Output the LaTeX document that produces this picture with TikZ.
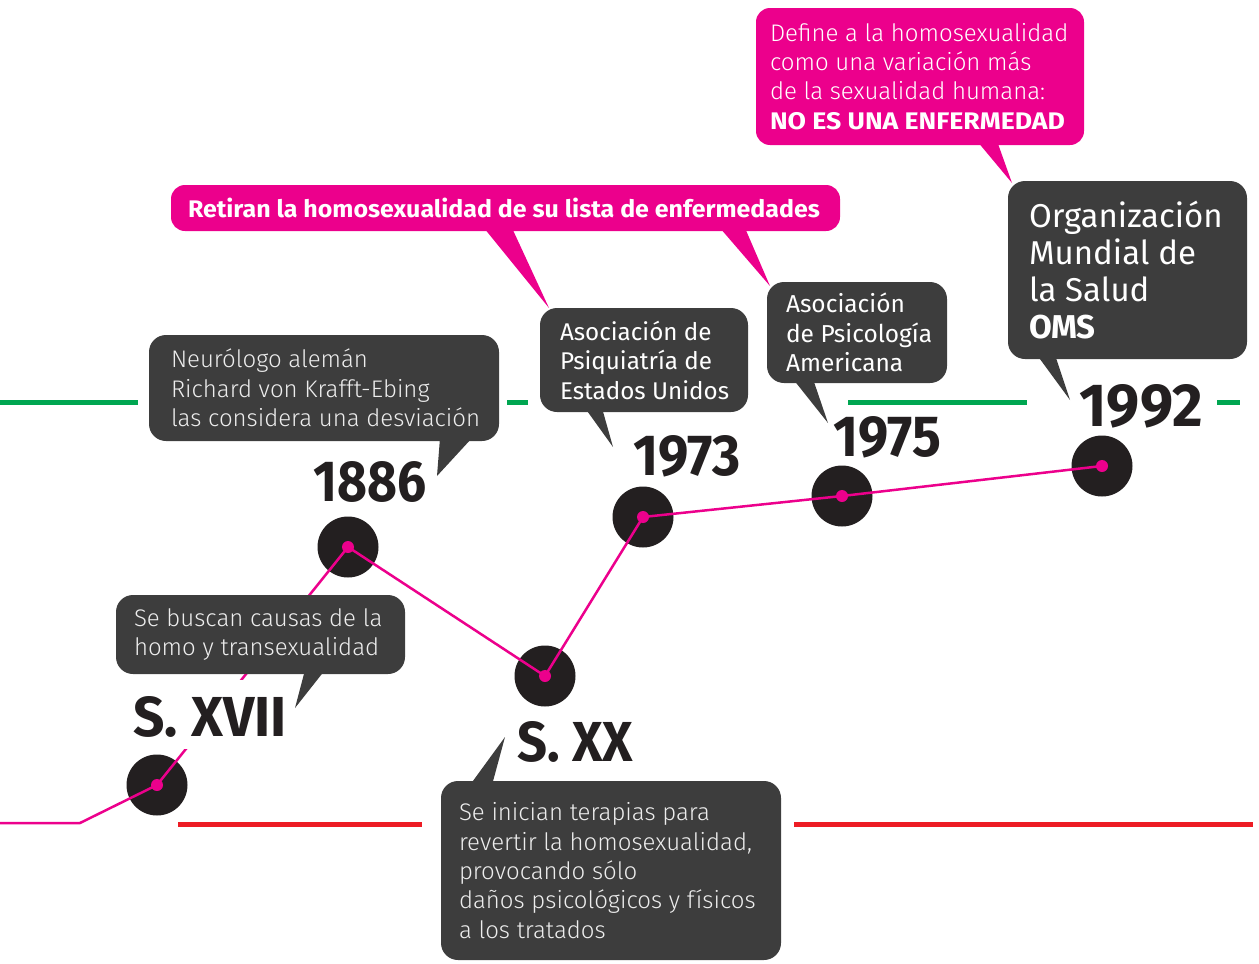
\documentclass[tikz,border=0pt]{standalone}
\usepackage{fontspec}
\IfFontExistsTF{Fira Sans Light}{%
  \setmainfont{Fira Sans Light}[BoldFont={Fira Sans Bold}]
}{%
  \setmainfont{Fira Sans}
}
\newfontfamily\medfont{Fira Sans}[BoldFont={Fira Sans Bold}]
\newfontfamily\yrfont{Fira Sans Bold}
\definecolor{bubgray}{HTML}{3D3D3D}
\definecolor{dotc}{HTML}{231F20}
\definecolor{pinkc}{HTML}{EC008C}
\definecolor{greenc}{HTML}{00A651}
\definecolor{redc}{HTML}{ED1C24}
\definecolor{txtw}{HTML}{EDEDED}
\begin{document}
\begin{tikzpicture}[x=1pt,y=-1pt,
  bubbox/.style={fill=bubgray, rounded corners=17pt, inner sep=0pt},
  pbox/.style={fill=pinkc, rounded corners=14pt, inner sep=0pt},
  btxt/.style={text=txtw, align=left, inner sep=0pt, anchor=west},
  ptxt/.style={text=white, align=left, inner sep=0pt, anchor=west},
  dot/.style={circle, fill=dotc, minimum size=61pt, inner sep=0pt},
  pdot/.style={circle, fill=pinkc, minimum size=12pt, inner sep=0pt},
  yr/.style={fill=white, inner sep=2pt, text=dotc, font=\yrfont},
  gline/.style={draw=greenc, line width=5pt},
  rline/.style={draw=redc, line width=5pt},
  pline/.style={draw=pinkc, line width=2.5pt, line join=round},
  tailg/.style={fill=bubgray},
  tailp/.style={fill=pinkc},
]
\useasboundingbox (0,0) rectangle (1259,964);

% horizontal lines
\draw[gline] (0,402) -- (138,402);
\draw[gline] (507,402) -- (528,402);
\draw[gline] (848,402) -- (1027,402);
\draw[gline] (1217,402) -- (1240,402);
\draw[rline] (178,824) -- (422,824);
\draw[rline] (794,824) -- (1253,824);

% circles
\node[dot] (c1) at (157,785) {};
\node[dot] (c2) at (348,547) {};
\node[dot] (c3) at (545,676) {};
\node[dot] (c4) at (643,517) {};
\node[dot] (c5) at (842,496) {};
\node[dot] (c6) at (1102,466) {};

\coordinate (s0) at (0,823);
\coordinate (s1) at (80,823);
\draw[pline] (s0) -- (s1) -- (c1.center) -- (c2.center) -- (c3.center) -- (c4.center) -- (c5.center) -- (c6.center);
\foreach \c in {c1,c2,c3,c4,c5,c6} \node[pdot] at (\c.center) {};

% white ground behind S. XVII
\fill[white] (128,680) rectangle (292,749);

% year labels
\node[yr] (y0) at (210,717) {\resizebox{153pt}{40pt}{S. XVII}};
\node[yr] (y1) at (370,482) {\resizebox{113pt}{40pt}{1886}};
\node[yr] (y2) at (575,742) {\resizebox{116pt}{40pt}{S. XX}};
\node[yr] (y3) at (687,456) {\resizebox{108pt}{40pt}{1973}};
\node[yr] (y4) at (887,437) {\resizebox{108pt}{40pt}{1975}};
\node[yr] (y5) at (1141,406) {\resizebox{123pt}{42pt}{1992}};

% bubble 1
\fill[tailg] (440,438) -- (472,438) -- (437,476) -- cycle;
\node[bubbox, minimum width=350pt, minimum height=106pt] (b1) at (324,388) {};
\node[btxt, font=\fontsize{24}{29.5}\selectfont] (t1) at ([xshift=22pt]b1.west) {Neurólogo alemán\\Richard von Krafft-Ebing\\las considera una desviación};

% bubble 2
\fill[tailg] (305,670) -- (325,670) -- (295,708) -- cycle;
\node[bubbox, minimum width=289pt, minimum height=79pt] (b2) at (260.5,634.5) {};
\node[btxt, font=\fontsize{24}{29}\selectfont] (t2) at ([xshift=18pt]b2.west) {Se buscan causas de la\\homo y transexualidad};

% bubble 3
\fill[tailg] (470,785) -- (492,785) -- (505,737) -- cycle;
\node[bubbox, minimum width=340pt, minimum height=179pt] (b3) at (611,870.5) {};
\node[btxt, font=\fontsize{24}{29.3}\selectfont] (t3) at ([xshift=18pt]b3.west) {Se inician terapias para\\revertir la homosexualidad,\\provocando sólo\\daños psicológicos y físicos\\a los tratados};

% bubble 4
\fill[tailg] (585,408) -- (602,408) -- (613,447) -- cycle;
\node[bubbox, minimum width=208pt, minimum height=104pt] (b4) at (644,360) {};
\node[btxt, font=\medfont\fontsize{24.2}{29.5}\selectfont, text=white] (t4) at ([xshift=20pt]b4.west) {Asociación de\\Psiquiatría de\\Estados Unidos};

% bubble 5
\fill[tailg] (793,379) -- (813,379) -- (828,423) -- cycle;
\node[bubbox, minimum width=180pt, minimum height=101pt] (b5) at (857,332.5) {};
\node[btxt, font=\medfont\fontsize{24.5}{29.5}\selectfont, text=white] (t5) at ([xshift=19pt]b5.west) {Asociación\\de Psicología\\Americana};

% bubble 6
\fill[tailg] (1037,355) -- (1055,355) -- (1070,400) -- cycle;
\node[bubbox, minimum width=239pt, minimum height=178pt] (b6) at (1127.5,270) {};
\node[btxt, font=\medfont\fontsize{33}{37}\selectfont, text=white] (t6) at ([xshift=21pt]b6.west) {Organización\\Mundial de\\la Salud\\\textbf{OMS}};

% pink bubble 1
\fill[tailp] (484,228) -- (512,228) -- (549,308) -- cycle;
\fill[tailp] (720,228) -- (745,228) -- (770,286) -- cycle;
\node[pbox, minimum width=669pt, minimum height=46pt] (p1) at (505.5,208) {};
\node[ptxt, font=\bfseries\fontsize{24}{26}\selectfont] (tp1) at ([xshift=17pt]p1.west) {\scalebox{1.04}[1]{Retiran la homosexualidad de su lista de enfermedades}};

% pink bubble 2
\fill[tailp] (977,141) -- (997,141) -- (1012,183) -- cycle;
\node[pbox, minimum width=328pt, minimum height=137pt] (p2) at (920,76.5) {};
\node[ptxt, font=\fontsize{24}{29.3}\selectfont] (tp2) at ([xshift=14pt]p2.west) {Define a la homosexualidad\\como una variación más\\de la sexualidad humana:\\\scalebox{1.11}[1]{\textbf{NO ES UNA ENFERMEDAD}}};
\end{tikzpicture}
\end{document}
